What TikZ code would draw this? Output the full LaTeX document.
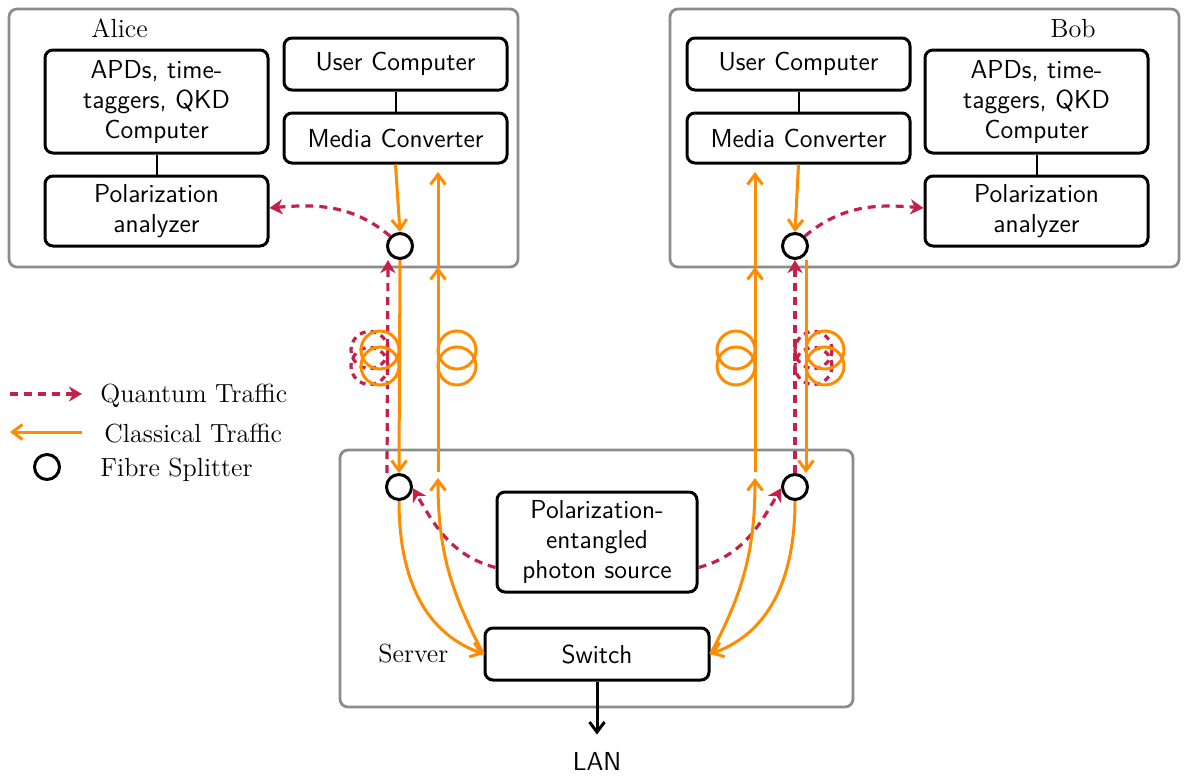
\documentclass[tikz,border=0pt]{standalone}
\usepackage{fontspec}
\usetikzlibrary{arrows.meta}
\definecolor{qred}{RGB}{196,32,72}
\definecolor{corange}{RGB}{255,140,0}
\definecolor{grp}{RGB}{140,140,140}
\begin{document}
\begin{tikzpicture}[x=0.5pt,y=-0.5pt,
  box/.style={draw=black, line width=1.5pt, rounded corners=4pt, align=center, inner sep=0pt, font=\sffamily\fontsize{13}{15}\selectfont},
  group/.style={draw=grp, line width=1.4pt, rounded corners=4pt, inner sep=0pt},
  split/.style={draw=black, circle, line width=1.5pt, minimum size=12.5pt, inner sep=0pt, fill=white},
  txt/.style={font=\fontsize{13.1}{15}\selectfont, inner sep=0pt},
  ctraffic/.style={draw=corange, line width=1.5pt, -{Straight Barb[length=5pt,width=7.5pt]}},
  qtraffic/.style={draw=qred, line width=1.6pt, dash pattern=on 4pt off 3pt, -{Stealth[length=6.5pt,width=7.5pt,inset=2pt]}},
  spool/.style={draw=corange, line width=1.5pt},
  qspool/.style={draw=qred, line width=1.6pt, dash pattern=on 3pt off 2.5pt},
  link/.style={draw=black, line width=1pt},
]
\useasboundingbox (0,0) rectangle (1185,776);

% groups
\node[group, minimum width=254.5pt, minimum height=129pt] (alice) at (263.5,138) {};
\node[group, minimum width=254.5pt, minimum height=129pt] (bob) at (924.5,138) {};
\node[group, minimum width=256.5pt, minimum height=128.5pt] (server) at (596.5,578.5) {};

% labels
\node[txt, anchor=base west] (alicelbl) at (91,37) {Alice};
\node[txt, anchor=base west] (boblbl) at (1050,37) {Bob};
\node[txt, anchor=base west] (serverlbl) at (378,662) {Server};
\node[txt, font=\sffamily\fontsize{13}{15}\selectfont, anchor=base] (lan) at (597,770) {LAN};

% Alice boxes
\node[box, minimum width=111.5pt, minimum height=51.5pt] (apdA) at (156.5,101.5) {APDs, time-\\taggers, QKD\\Computer};
\node[box, minimum width=111.5pt, minimum height=35pt] (polA) at (156.5,211) {Polarization\\analyzer};
\node[box, minimum width=111.5pt, minimum height=26pt] (ucA) at (395.5,64) {User Computer};
\node[box, minimum width=111.5pt, minimum height=25pt] (mcA) at (395.5,138) {Media Converter};
% Bob boxes
\node[box, minimum width=111.5pt, minimum height=51.5pt] (apdB) at (1036.5,101.5) {APDs, time-\\taggers, QKD\\Computer};
\node[box, minimum width=111.5pt, minimum height=35pt] (polB) at (1036.5,211) {Polarization\\analyzer};
\node[box, minimum width=111.5pt, minimum height=26pt] (ucB) at (798.5,64) {User Computer};
\node[box, minimum width=111.5pt, minimum height=25pt] (mcB) at (798.5,138) {Media Converter};
% Server boxes
\node[box, minimum width=100pt, minimum height=50pt] (src) at (597,542) {Polarization-\\entangled\\photon source};
\node[box, minimum width=112pt, minimum height=26pt] (switch) at (597,654) {Switch};

% links
\draw[link] (apdA) -- (polA);
\draw[link] (ucA) -- (mcA);
\draw[link] (apdB) -- (polB);
\draw[link] (ucB) -- (mcB);
\draw[line width=1.5pt, -{Straight Barb[length=5pt,width=7.5pt]}] (switch.south) -- ([yshift=8.5pt]lan.north);

% splitters
\node[split] (A1) at (400,246) {};
\node[split] (B1) at (795,246) {};
\node[split] (S1) at (399,487) {};
\node[split] (S2) at (795,487) {};

% helper coordinates
\coordinate (aLow) at (438,472);
\coordinate (aMid) at (438,267);
\coordinate (aHigh) at (438,172);
\coordinate (aIn) at (438,478);
\coordinate (bLow) at (755,472);
\coordinate (bMid) at (755,267);
\coordinate (bHigh) at (755,172);
\coordinate (bIn) at (755,478);

% spools (quantum, behind)
\draw[qspool] (369.5,350) circle[radius=9.25pt];
\draw[qspool] (369.5,366) circle[radius=9.25pt];
\draw[qspool] (813.5,350) circle[radius=9.25pt];
\draw[qspool] (813.5,366) circle[radius=9.25pt];

% Alice traffic
\draw[ctraffic] (mcA.south) -- (A1.north);
\draw[qtraffic] (A1.135) to[out=140,in=5] ([yshift=1.5pt]polA.east);
\draw[qtraffic] ([xshift=-6pt]S1.north) -- ([xshift=-6pt]A1.south);
\draw[ctraffic] (A1.south) -- (S1.north);
\draw[ctraffic] (aLow) -- (aMid);
\draw[ctraffic] (aMid) -- (aHigh);

% Bob traffic
\draw[ctraffic] (mcB.south) -- (B1.north);
\draw[qtraffic] (B1.45) to[out=40,in=175] ([yshift=1.5pt]polB.west);
\draw[qtraffic] (S2.north) -- (B1.south);
\draw[ctraffic] ([xshift=5.5pt]B1.south) -- ([xshift=5.5pt]S2.north);
\draw[ctraffic] (bLow) -- (bMid);
\draw[ctraffic] (bMid) -- (bHigh);

% Server traffic
\draw[qtraffic] ([yshift=13pt]src.south west) to[out=165,in=-60] (S1.-5);
\draw[qtraffic] ([yshift=13pt]src.south east) to[out=15,in=-120] (S2.185);
\draw[ctraffic] (S1.south) to[out=-90,in=160] (switch.west);
\draw[ctraffic] (switch.west) to[out=118,in=-90] (aIn);
\draw[ctraffic] (S2.south) to[out=-90,in=20] (switch.east);
\draw[ctraffic] (switch.east) to[out=62,in=-90] (bIn);

% spools (classical)
\draw[spool] (380,350) circle[radius=9.5pt];
\draw[spool] (380,366) circle[radius=9.5pt];
\draw[spool] (457,350) circle[radius=9.5pt];
\draw[spool] (457,366) circle[radius=9.5pt];
\draw[spool] (736,350) circle[radius=9.5pt];
\draw[spool] (736,366) circle[radius=9.5pt];
\draw[spool] (825,350) circle[radius=9.5pt];
\draw[spool] (825,366) circle[radius=9.5pt];

% legend
\coordinate (lq1) at (10,394);
\coordinate (lq2) at (82,394);
\coordinate (lc1) at (82,432);
\coordinate (lc2) at (10,432);
\draw[qtraffic] (lq1) -- (lq2);
\draw[ctraffic] (lc1) -- (lc2);
\node[split] (legS) at (47,467) {};
\node[txt, anchor=base west] (legQ) at (100,402) {Quantum Traffic};
\node[txt, anchor=base west] (legC) at (104,442) {Classical Traffic};
\node[txt, anchor=base west] (legF) at (100,476) {Fibre Splitter};
\end{tikzpicture}
\end{document}
